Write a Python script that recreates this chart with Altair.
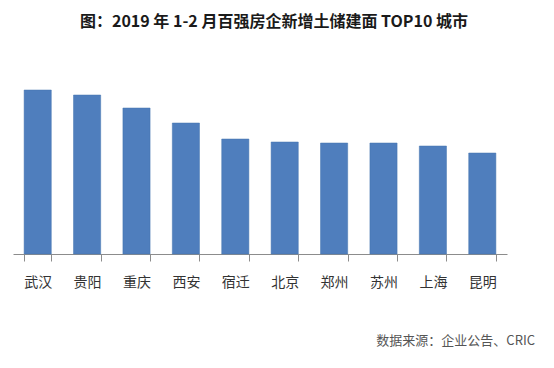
import altair as alt
import pandas as pd

cities = ["武汉", "贵阳", "重庆", "西安", "宿迁", "北京", "郑州", "苏州", "上海", "昆明"]
values = [164, 159, 146, 131, 115, 112, 111, 111, 108, 101]

title_text = ["图：2019 年 1-2 月百强房企新增土储建面 TOP10 城市"]
source_text = ["数据来源：企业公告、CRIC"]

df = pd.DataFrame({"city": cities, "value": values})

FONT = "Noto Sans CJK SC"
W, H = 494, 194

bars = alt.Chart(df).mark_bar(color="#4F7EBD", stroke="#4574AE", strokeWidth=0.5).encode(
    x=alt.X(
        "city:N",
        sort=cities,
        title=None,
        scale=alt.Scale(paddingInner=0.45, paddingOuter=0.225),
        axis=alt.Axis(
            labelAngle=0,
            labelFont=FONT,
            labelFontSize=14,
            labelColor="#333333",
            labelPadding=14,
            tickBand="extent",
            tickSize=7,
            tickColor="#8c8c8c",
            domainColor="#8c8c8c",
            grid=False,
        ),
    ),
    y=alt.Y("value:Q", scale=alt.Scale(domain=[0, 194]), axis=None),
)

title = alt.Chart(pd.DataFrame({"t": title_text})).mark_text(
    font=FONT, fontSize=16, fontWeight="bold", color="#1a1a1a", align="center", baseline="middle"
).encode(text="t:N", x=alt.value(261), y=alt.value(-38))

source = alt.Chart(pd.DataFrame({"t": source_text})).mark_text(
    font=FONT, fontSize=13, color="#555555", align="right", baseline="middle"
).encode(text="t:N", x=alt.value(522), y=alt.value(281))

chart = alt.layer(bars, title, source).properties(
    width=W,
    height=H,
    autosize="none",
    padding={"left": 5, "top": 52, "right": 39, "bottom": 106},
).configure_view(stroke=None)

chart.save("out.html", embed_options={"renderer": "svg", "actions": False})
